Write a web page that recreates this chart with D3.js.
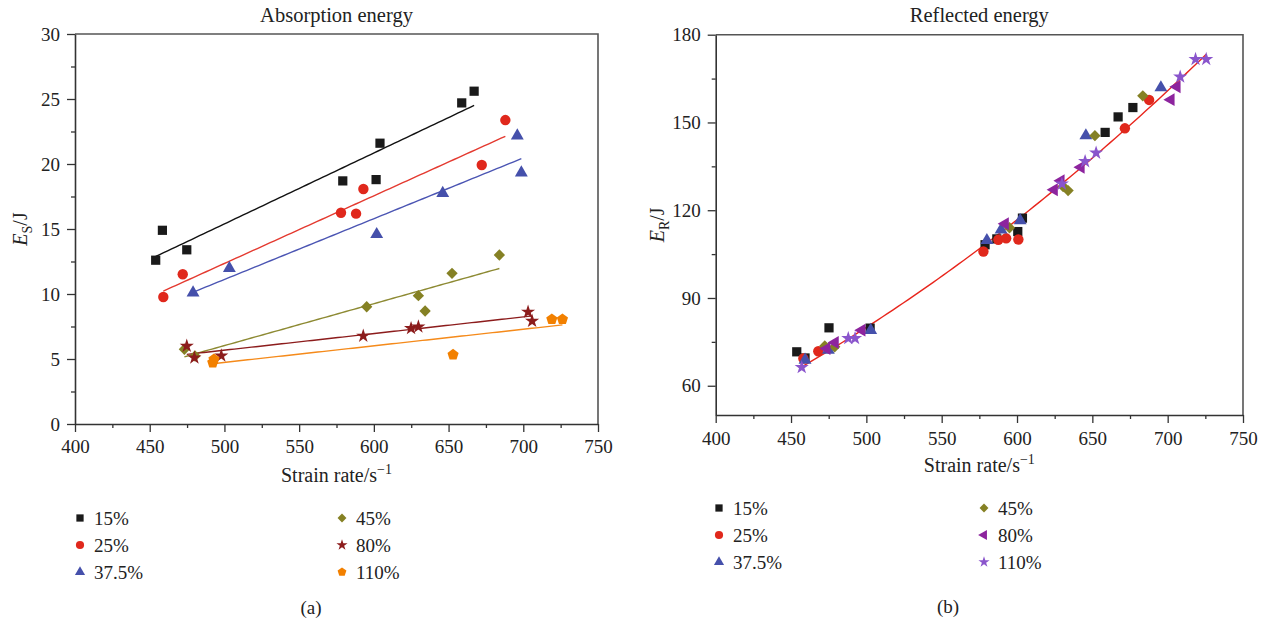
<!DOCTYPE html>
<html>
<head>
<meta charset="utf-8">
<script src="https://cdn.jsdelivr.net/npm/d3@7"></script>
<style>
  body { margin: 0; background: #fff; }
  text { font-family: "Liberation Serif", "DejaVu Serif", serif; fill: #222; }
</style>
</head>
<body>
<svg id="chart" width="1268" height="627"></svg>
<script>
// ---- Data: [strain rate (1/s), energy (J)] ----
const seriesLabels = ["15%", "25%", "37.5%", "45%", "80%", "110%"];

// (a) Absorption energy E_S
const abs15  = [[454.0,12.6],[458.5,14.9],[474.8,13.4],[579.2,18.7],[601.5,18.8],[604.1,21.6],[658.8,24.7],[667.1,25.6]];
const abs25  = [[459.1,9.77],[472.1,11.52],[578.0,16.25],[588.1,16.18],[593.0,18.08],[672.2,19.92],[688.0,23.38]];
const abs375 = [[479.0,10.1],[503.3,11.98],[601.9,14.59],[646.1,17.75],[696.0,22.18],[698.7,19.33]];
const abs45  = [[473.2,5.75],[480.3,5.23],[595.2,9.02],[629.8,9.87],[634.3,8.69],[652.3,11.59],[684.0,13.0]];
const abs80  = [[474.8,6.0],[479.9,5.1],[497.9,5.25],[592.9,6.77],[624.9,7.36],[629.8,7.48],[703.2,8.62],[705.9,7.92]];
const abs110 = [[492.2,4.72],[493.0,4.98],[653.0,5.33],[719.1,8.05],[726.2,8.05]];

// (b) Reflected energy E_R
const ref15  = [[453.8,71.6],[459.3,69.5],[475.2,79.8],[502.5,79.7],[578.8,108.2],[586.6,110.2],[600.5,112.7],[603.6,117.3],[658.5,146.6],[667.1,151.9],[676.9,155.1]];
const ref25  = [[458.2,69.3],[468.1,71.8],[577.7,105.9],[587.6,109.9],[592.8,110.4],[600.9,110.0],[671.6,148.0],[687.7,157.7]];
const ref375 = [[459.3,68.8],[474.8,72.2],[502.9,79.0],[580.0,109.7],[589.4,113.3],[602.1,116.5],[645.7,145.5],[695.5,161.9]];
const ref45  = [[472.4,73.6],[479.0,73.3],[595.0,114.0],[630.6,128.1],[633.9,126.7],[651.7,145.5],[683.5,159.1]];
const ref80  = [[473.7,72.7],[479.2,74.8],[496.9,79.0],[592.1,115.4],[624.6,127.0],[629.1,130.1],[642.4,134.7],[702.1,157.8],[706.1,162.2]];
const ref110 = [[457.1,66.3],[488.0,76.2],[492.5,76.2],[629.8,129.0],[645.2,136.7],[652.5,139.6],[708.3,165.6],[718.5,171.6],[725.6,171.6]];

// quadratic fit of E_R: a + b(x - 600) + c(x - 600)^2, over the strain-rate range
const refFitCoef = [116.7, 0.4042, 0.00037];
const refFitRange = [457.1, 725.6];

const xTicks = [400, 450, 500, 550, 600, 650, 700, 750];
const absYTicks = [0, 5, 10, 15, 20, 25, 30];
const refYTicks = [60, 90, 120, 150, 180];

// ---- Marker shapes ----
const pentagon = {
  draw(ctx, size) {
    const r = Math.sqrt(size / 2.3776);
    for (let k = 0; k < 5; k++) {
      const a = -Math.PI / 2 + k * 2 * Math.PI / 5;
      const px = r * Math.cos(a), py = r * Math.sin(a);
      k ? ctx.lineTo(px, py) : ctx.moveTo(px, py);
    }
    ctx.closePath();
  }
};
function shapePath(kind, size) {
  switch (kind) {
    case "square":   return d3.symbol(d3.symbolSquare, size)();
    case "circle":   return d3.symbol(d3.symbolCircle, size)();
    case "triangle": return d3.symbol(d3.symbolTriangle, size)();
    case "diamond":  return d3.symbol(d3.symbolSquare, size)();
    case "star":     return d3.symbol(d3.symbolStar, size)();
    case "pentagon": return d3.symbol(pentagon, size)();
    case "left":     return d3.symbol(d3.symbolTriangle, size)();
  }
}
function shapeRotate(kind) {
  if (kind === "diamond") return 45;
  if (kind === "left") return -90;
  return 0;
}
const baseSize = { square: 85, circle: 85, triangle: 72, diamond: 64, star: 62, pentagon: 82, left: 72 };

const svg = d3.select("#chart");

// ---- Least squares straight line ----
function linearFit(pts) {
  const mx = d3.mean(pts, d => d[0]), my = d3.mean(pts, d => d[1]);
  let sxy = 0, sxx = 0;
  pts.forEach(([x, y]) => { sxy += (x - mx) * (y - my); sxx += (x - mx) * (x - mx); });
  const b = sxy / sxx, a = my - b * mx;
  return x => a + b * x;
}

const FS = 19;

// ---- Panel drawing ----
function drawPanel(cfg) {
  const g = svg.append("g");
  const x = d3.scaleLinear().domain([400, 750]).range([cfg.left, cfg.right]);
  const y = d3.scaleLinear().domain(cfg.yDomain).range([cfg.bottom, cfg.top]);

  // frame (top and right)
  g.append("path")
    .attr("d", `M${cfg.left},${cfg.top}H${cfg.right}V${cfg.bottom}`)
    .attr("fill", "none").attr("stroke", "#555").attr("stroke-width", 1.6);

  // x axis: minor then major
  const xMinor = d3.range(425, 750, 50);
  g.append("g").attr("transform", `translate(0,${cfg.bottom})`)
    .call(d3.axisBottom(x).tickValues(xMinor).tickSize(4).tickFormat(""))
    .call(s => s.select(".domain").remove());
  const gx = g.append("g").attr("transform", `translate(0,${cfg.bottom})`)
    .call(d3.axisBottom(x).tickValues(xTicks).tickSize(8).tickSizeOuter(0).tickPadding(cfg.xPad).tickFormat(d3.format("d")));
  gx.selectAll("text").attr("font-size", FS).style("font-family", "Liberation Serif, serif");

  // y axis
  g.append("g").attr("transform", `translate(${cfg.left},0)`)
    .call(d3.axisLeft(y).tickValues(cfg.yMinor).tickSize(4).tickFormat(""))
    .call(s => s.select(".domain").remove());
  const gy = g.append("g").attr("transform", `translate(${cfg.left},0)`)
    .call(d3.axisLeft(y).tickValues(cfg.yTicks).tickSize(8).tickSizeOuter(0).tickPadding(7).tickFormat(d3.format("d")));
  gy.selectAll("text").attr("font-size", FS).style("font-family", "Liberation Serif, serif");

  g.selectAll(".domain").attr("stroke", "#333").attr("stroke-width", 1.6);
  g.selectAll(".tick line").attr("stroke", "#333").attr("stroke-width", 1.3);

  // title
  g.append("text").attr("x", (cfg.left + cfg.right) / 2).attr("y", 22)
    .attr("text-anchor", "middle").attr("font-size", 20.5).text(cfg.title);

  // x axis title
  const xt = g.append("text").attr("x", (cfg.left + cfg.right) / 2).attr("y", cfg.xTitleY)
    .attr("text-anchor", "middle").attr("font-size", 20);
  xt.append("tspan").text("Strain rate/s");
  xt.append("tspan").attr("dy", -8).attr("font-size", 14).text("\u22121");

  // y axis title
  const yt = g.append("text")
    .attr("transform", `translate(${cfg.yTitleX},${(cfg.top + cfg.bottom) / 2}) rotate(-90)`)
    .attr("text-anchor", "middle").attr("font-size", 20);
  yt.append("tspan").attr("font-style", "italic").text("E");
  yt.append("tspan").attr("dy", 5).attr("font-size", 14).text(cfg.sub);
  yt.append("tspan").attr("dy", -5).text("/J");

  // fit lines
  const line = d3.line().x(d => x(d[0])).y(d => y(d[1]));
  cfg.fits.forEach(f => {
    const ext = f.range || d3.extent(f.pts, d => d[0]);
    const fn = f.fn || linearFit(f.pts);
    const xs = d3.range(0, 81).map(i => ext[0] + (ext[1] - ext[0]) * i / 80);
    g.append("path").datum(xs.map(v => [v, fn(v)]))
      .attr("d", line).attr("fill", "none").attr("stroke", f.color).attr("stroke-width", 1.4);
  });

  // markers
  cfg.series.forEach(s => {
    g.append("g").selectAll("path").data(s.pts).join("path")
      .attr("d", shapePath(s.shape, baseSize[s.shape]))
      .attr("transform", d => `translate(${x(d[0])},${y(d[1])}) rotate(${shapeRotate(s.shape)})`)
      .attr("fill", s.color);
  });

  // legend
  cfg.series.forEach((s, i) => {
    const col = i < 3 ? 0 : 1, row = i % 3;
    const lx = cfg.legX[col], ly = cfg.legY + row * cfg.legDy;
    g.append("path")
      .attr("d", shapePath(s.shape, baseSize[s.shape] * 0.62))
      .attr("transform", `translate(${lx},${ly}) rotate(${shapeRotate(s.shape)})`)
      .attr("fill", s.color);
    g.append("text").attr("x", lx + 14).attr("y", ly + 6.5).attr("font-size", FS).text(seriesLabels[i]);
  });

  // panel label
  g.append("text").attr("x", cfg.tagX).attr("y", cfg.tagY).attr("text-anchor", "middle")
    .attr("font-size", 19).text(cfg.tag);
}

const cBlack = "#1a1a1a", cRed = "#e0281c", cBlue = "#4550ab", cOlive = "#858124",
      cMaroon = "#8c1c1c", cOrange = "#f28000", cPurple = "#8d249e", cViolet = "#8a55cc";

drawPanel({
  left: 75, right: 598, top: 34, bottom: 424,
  yDomain: [0, 30], yTicks: absYTicks, yMinor: d3.range(2.5, 30, 5),
  title: "Absorption energy", sub: "S", yTitleX: 27, xTitleY: 482, xPad: 8,
  series: [
    { pts: abs15,  shape: "square",   color: cBlack },
    { pts: abs25,  shape: "circle",   color: cRed },
    { pts: abs375, shape: "triangle", color: cBlue },
    { pts: abs45,  shape: "diamond",  color: cOlive },
    { pts: abs80,  shape: "star",     color: cMaroon },
    { pts: abs110, shape: "pentagon", color: cOrange }
  ],
  fits: [
    { pts: abs15,  color: "#111" },
    { pts: abs25,  color: "#e43a30" },
    { pts: abs375, color: "#4b55b3" },
    { pts: abs45,  color: "#8d8a33" },
    { pts: abs80,  color: "#8c1c1c" },
    { pts: abs110, color: "#f58a1a" }
  ],
  legX: [80, 342], legY: 518, legDy: 27, tagX: 311, tagY: 614, tag: "(a)"
});

drawPanel({
  left: 715.7, right: 1243, top: 34.7, bottom: 415,
  yDomain: [50, 180], yTicks: refYTicks, yMinor: [75, 105, 135, 165],
  title: "Reflected energy", sub: "R", yTitleX: 664, xTitleY: 472, xPad: 9,
  series: [
    { pts: ref15,  shape: "square",   color: cBlack },
    { pts: ref25,  shape: "circle",   color: cRed },
    { pts: ref375, shape: "triangle", color: cBlue },
    { pts: ref45,  shape: "diamond",  color: cOlive },
    { pts: ref80,  shape: "left",     color: cPurple },
    { pts: ref110, shape: "star",     color: cViolet }
  ],
  fits: [
    { range: refFitRange, color: "#e8251c",
      fn: v => { const u = v - 600; return refFitCoef[0] + refFitCoef[1] * u + refFitCoef[2] * u * u; } }
  ],
  legX: [719, 984], legY: 508, legDy: 27, tagX: 948, tagY: 613, tag: "(b)"
});
</script>
</body>
</html>
